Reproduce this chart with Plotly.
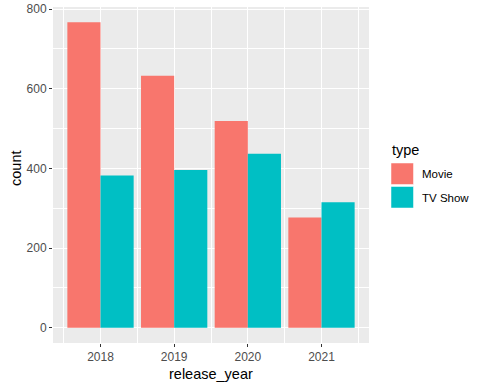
import plotly.graph_objects as go

years = [2018, 2019, 2020, 2021]
movie_counts = [767, 633, 519, 277]
tv_counts = [382, 396, 437, 315]
series_names = ["Movie", "TV Show"]
series_colors = ["#F8766D", "#00BFC4"]

W, H = 485, 388
L, R, T, B = 53, 116, 7, 45
pw, ph = W - L - R, H - T - B

def px_x(px):
    return (px - L) / pw

def px_y(py):
    return (H - B - py) / ph

fig = go.Figure()
for name, vals, col in zip(series_names, [movie_counts, tv_counts], series_colors):
    fig.add_trace(go.Bar(x=years, y=vals, name=name, marker=dict(color=col, line=dict(width=0)),
                         showlegend=False))

font = "Liberation Sans, Arial, sans-serif"
fig.update_layout(
    width=W, height=H,
    margin=dict(l=L, r=R, t=T, b=B, autoexpand=False),
    paper_bgcolor="white", plot_bgcolor="#EBEBEB",
    barmode="group", bargap=0.1, bargroupgap=0,
    font=dict(family=font),
    showlegend=False,
)
fig.update_xaxes(
    automargin=False,
    range=[2017.355, 2021.645],
    tickmode="array", tickvals=years, ticktext=[str(y) for y in years],
    showgrid=True, gridcolor="white", gridwidth=1.1,
    minor=dict(tickmode="array", tickvals=[2017.5, 2018.5, 2019.5, 2020.5, 2021.5],
               showgrid=True, gridcolor="white", gridwidth=0.55, ticks=""),
    ticks="outside", ticklen=3, tickcolor="#333333", tickwidth=1,
    tickfont=dict(size=12, color="#4D4D4D", family=font),
    title=dict(text=""),
    zeroline=False, showline=False,
)
fig.update_yaxes(
    automargin=False,
    range=[-38.35, 805.35],
    tickmode="array", tickvals=[0, 200, 400, 600, 800],
    showgrid=True, gridcolor="white", gridwidth=1.1,
    minor=dict(tickmode="array", tickvals=[100, 300, 500, 700],
               showgrid=True, gridcolor="white", gridwidth=0.55, ticks=""),
    ticks="outside", ticklen=3, tickcolor="#333333", tickwidth=1,
    tickfont=dict(size=12, color="#4D4D4D", family=font),
    title=dict(text=""),
    zeroline=False, showline=False,
)

# axis titles
fig.add_annotation(x=px_x(211), y=px_y(374), xref="paper", yref="paper", text="release_year",
                   showarrow=False, xanchor="center", yanchor="middle",
                   font=dict(size=14.5, color="black", family=font))
fig.add_annotation(x=px_x(16), y=px_y(169), xref="paper", yref="paper", text="count",
                   showarrow=False, xanchor="center", yanchor="middle", textangle=-90,
                   font=dict(size=14.5, color="black", family=font))

# ggplot-style legend
fig.add_annotation(x=px_x(390), y=px_y(150), xref="paper", yref="paper", text="type",
                   showarrow=False, xanchor="left", yanchor="middle",
                   font=dict(size=14.5, color="black", family=font))
key_tops = [163, 186.5]
for name, col, top in zip(series_names, series_colors, key_tops):
    fig.add_shape(type="rect", xref="paper", yref="paper",
                  x0=px_x(391), x1=px_x(413.5), y0=px_y(top), y1=px_y(top + 21.5),
                  fillcolor=col, line=dict(color="white", width=0.5))
    fig.add_annotation(x=px_x(420), y=px_y(top + 11), xref="paper", yref="paper", text=name,
                       showarrow=False, xanchor="left", yanchor="middle",
                       font=dict(size=11.5, color="black", family=font))

fig.write_html("out.html", config={"displayModeBar": False},
               post_script="document.body.style.margin='0';document.body.style.overflow='hidden';")
